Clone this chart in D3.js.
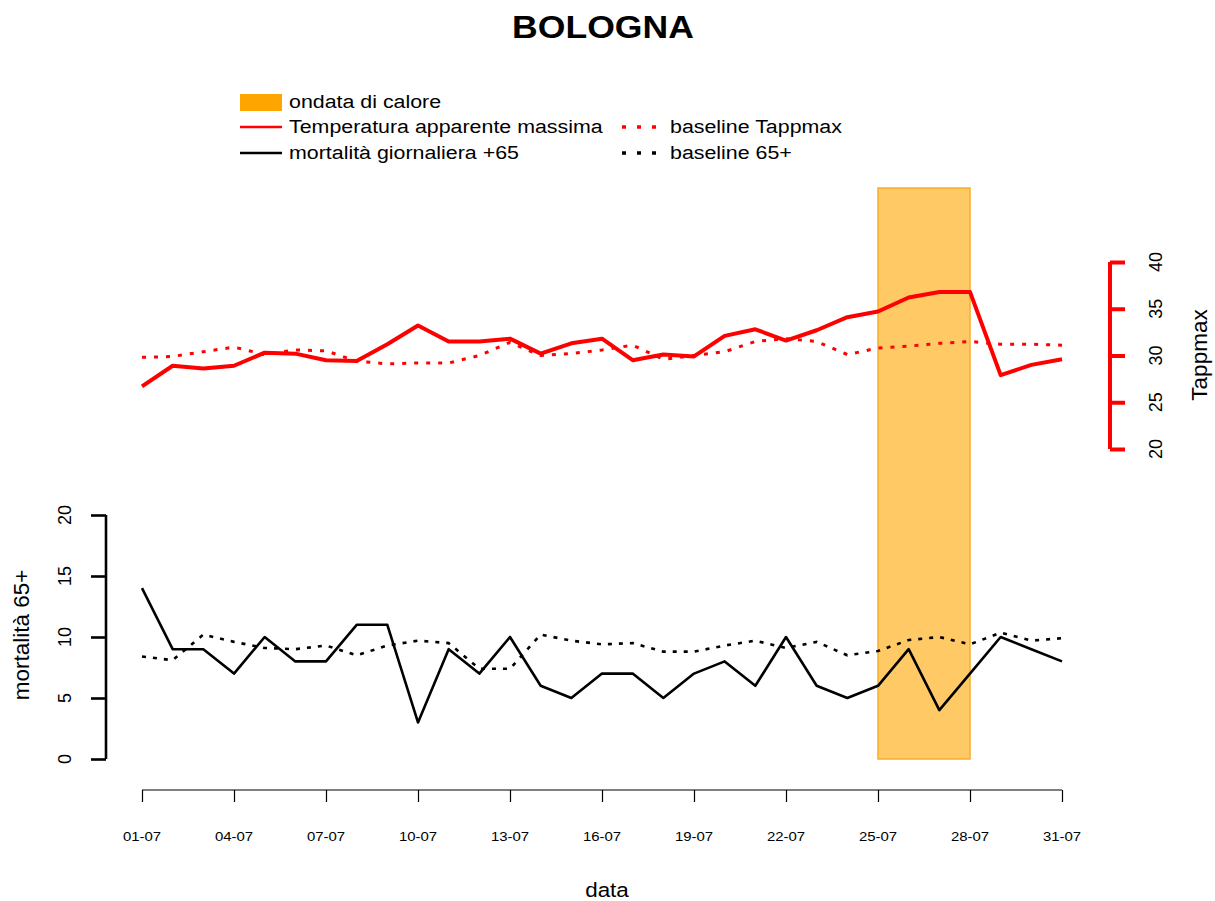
<!DOCTYPE html>
<html>
<head>
<meta charset="utf-8">
<script src="https://cdn.jsdelivr.net/npm/d3@7"></script>
<style>
  html, body { margin: 0; padding: 0; background: #fff; }
  svg { display: block; font-family: Arial, "Liberation Sans", sans-serif; }
</style>
</head>
<body>
<svg id="chart" width="1215" height="901"></svg>
<script>
// ---------- DATA ----------
const dates = ["01-07","02-07","03-07","04-07","05-07","06-07","07-07","08-07","09-07","10-07",
  "11-07","12-07","13-07","14-07","15-07","16-07","17-07","18-07","19-07","20-07",
  "21-07","22-07","23-07","24-07","25-07","26-07","27-07","28-07","29-07","30-07","31-07"];
const tappmax = [26.7, 28.9, 28.6, 28.9, 30.3, 30.2, 29.5, 29.4, 31.2, 33.2,
  31.5, 31.5, 31.8, 30.2, 31.3, 31.8, 29.5, 30.1, 29.9, 32.1,
  32.8, 31.6, 32.7, 34.1, 34.7, 36.2, 36.8, 36.8, 27.9, 29.0, 29.6];
const baselineTappmax = [29.8, 29.9, 30.4, 30.9, 30.1, 30.6, 30.5, 29.4, 29.1, 29.2,
  29.2, 30.0, 31.4, 30.0, 30.2, 30.6, 31.1, 29.6, 30.0, 30.4,
  31.5, 31.8, 31.5, 30.1, 30.8, 31.0, 31.3, 31.5, 31.2, 31.2, 31.1];
const mortality = [14, 9, 9, 7, 10, 8, 8, 11, 11, 3,
  9, 7, 10, 6, 5, 7, 7, 5, 7, 8,
  6, 10, 6, 5, 6, 9, 4, 7, 10, 9, 8];
const baseline65 = [8.4, 8.1, 10.2, 9.6, 9.1, 9.0, 9.3, 8.5, 9.3, 9.7,
  9.5, 7.4, 7.4, 10.2, 9.7, 9.4, 9.5, 8.8, 8.8, 9.3,
  9.7, 9.1, 9.6, 8.5, 8.85, 9.75, 10.0, 9.4, 10.35, 9.7, 9.9];
const xTickLabels = ["01-07","04-07","07-07","10-07","13-07","16-07","19-07","22-07","25-07","28-07","31-07"];
const mortTicks = [0, 5, 10, 15, 20];
const tempTicks = [20, 25, 30, 35, 40];
const heatwave = ["25-07", "28-07"];
const legendItems = ["ondata di calore", "Temperatura apparente massima", "mortalità giornaliera +65", "baseline Tappmax", "baseline 65+"];

// ---------- SCALES ----------
const svg = d3.select("#chart");
const x = d3.scalePoint().domain(dates).range([142, 1062]);
const yM = d3.scaleLinear().domain([0, 20]).range([759, 515]);
const yT = d3.scaleLinear().domain([20, 40]).range([449, 262]);
const SX = 1.15; // horizontal text stretch of the reference rendering

function htext(xp, yp, str, size, opts = {}) {
  return svg.append("text")
    .attr("transform", `translate(${xp},${yp}) scale(${opts.sx || SX},1)`)
    .attr("text-anchor", opts.anchor || "start")
    .attr("dominant-baseline", "central")
    .attr("font-size", size)
    .attr("font-weight", opts.bold ? "bold" : "normal")
    .attr("fill", opts.fill || "#000")
    .text(str);
}
function vtext(xp, yp, str, size) {
  return svg.append("text")
    .attr("transform", `translate(${xp},${yp}) rotate(-90)`)
    .attr("text-anchor", "middle")
    .attr("dominant-baseline", "central")
    .attr("font-size", size)
    .attr("fill", "#000")
    .text(str);
}

// ---------- HEATWAVE RECT ----------
svg.append("rect")
  .attr("x", x(heatwave[0]))
  .attr("width", x(heatwave[1]) - x(heatwave[0]))
  .attr("y", 188)
  .attr("height", yM(0) - 188)
  .attr("fill", "#FFC966")
  .attr("stroke", "#F8AE2A")
  .attr("stroke-width", 1.5);

// ---------- LINES ----------
const lineT = d3.line().x((d, i) => x(dates[i])).y(d => yT(d));
const lineM = d3.line().x((d, i) => x(dates[i])).y(d => yM(d));

svg.append("path").datum(baselineTappmax).attr("d", lineT)
  .attr("fill", "none").attr("stroke", "#FF0000").attr("stroke-width", 3)
  .attr("stroke-dasharray", "4,8");
svg.append("path").datum(tappmax).attr("d", lineT)
  .attr("fill", "none").attr("stroke", "#FF0000").attr("stroke-width", 4)
  .attr("stroke-linejoin", "round");
svg.append("path").datum(baseline65).attr("d", lineM)
  .attr("fill", "none").attr("stroke", "#000").attr("stroke-width", 2.6)
  .attr("stroke-dasharray", "4,7");
svg.append("path").datum(mortality).attr("d", lineM)
  .attr("fill", "none").attr("stroke", "#000").attr("stroke-width", 2.6)
  .attr("stroke-linejoin", "round");

// ---------- AXES ----------
// left mortality axis
const gL = svg.append("g").attr("transform", "translate(106,0)")
  .call(d3.axisLeft(yM).tickValues(mortTicks).tickSize(15).tickFormat(""));
gL.select(".domain").attr("d", `M0,${yM(0)}V${yM(20)}`).attr("stroke-width", 2.6);
gL.selectAll(".tick line").attr("stroke-width", 2.6);
mortTicks.forEach(t => vtext(65, yM(t), String(t), 18));
vtext(21, 635, "mortalità 65+", 22.5);

// right temperature axis
const gR = svg.append("g").attr("transform", "translate(1110,0)")
  .call(d3.axisRight(yT).tickValues(tempTicks).tickSize(15).tickFormat(""));
gR.select(".domain").attr("d", `M0,${yT(20)}V${yT(40)}`).attr("stroke", "#FF0000").attr("stroke-width", 4);
gR.selectAll(".tick line").attr("stroke", "#FF0000").attr("stroke-width", 4);
tempTicks.forEach(t => vtext(1156, yT(t), String(t), 18));
vtext(1199, 355, "Tappmax", 22.5);

// bottom date axis
const gB = svg.append("g").attr("transform", "translate(0,790)")
  .call(d3.axisBottom(x).tickValues(xTickLabels).tickSize(12).tickFormat(""));
gB.select(".domain").attr("d", `M${x(dates[0])},0H${x(dates[dates.length - 1])}`).attr("stroke-width", 1.2);
gB.selectAll(".tick line").attr("stroke-width", 1.2);
xTickLabels.forEach(t => htext(x(t), 836, t, 13, { anchor: "middle", sx: 1.15 }));
htext(607, 890, "data", 19.5, { anchor: "middle" });

// ---------- TITLE ----------
htext(603, 27, "BOLOGNA", 31.5, { anchor: "middle", bold: true, sx: 1.13 });

// ---------- LEGEND ----------
svg.append("rect").attr("x", 240).attr("y", 94).attr("width", 42).attr("height", 17).attr("fill", "#FFA500");
htext(289, 102, legendItems[0], 18.6);
svg.append("line").attr("x1", 240).attr("x2", 282).attr("y1", 127).attr("y2", 127)
  .attr("stroke", "#FF0000").attr("stroke-width", 2.6);
htext(289, 127, legendItems[1], 18.6);
svg.append("line").attr("x1", 240).attr("x2", 282).attr("y1", 153).attr("y2", 153)
  .attr("stroke", "#000").attr("stroke-width", 2.6);
htext(289, 153, legendItems[2], 18.6);
svg.append("line").attr("x1", 622).attr("x2", 664).attr("y1", 127).attr("y2", 127)
  .attr("stroke", "#FF0000").attr("stroke-width", 3.5).attr("stroke-dasharray", "4,11");
htext(670, 127, legendItems[3], 18.6);
svg.append("line").attr("x1", 622).attr("x2", 664).attr("y1", 153).attr("y2", 153)
  .attr("stroke", "#000").attr("stroke-width", 3.5).attr("stroke-dasharray", "4,11");
htext(670, 153, legendItems[4], 18.6);
</script>
</body>
</html>
